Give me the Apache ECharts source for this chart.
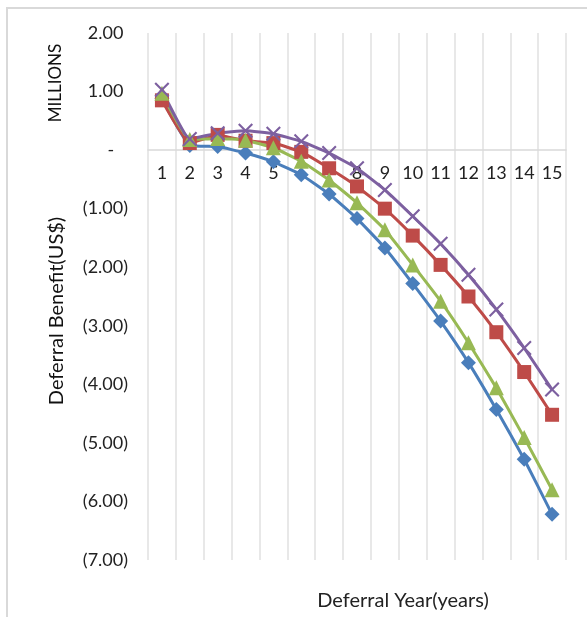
<!DOCTYPE html>
<html>
<head>
<meta charset="utf-8">
<script src="https://cdn.jsdelivr.net/npm/echarts@6/dist/echarts.min.js"></script>
<style>
  html, body { margin: 0; padding: 0; background: #fff; }
  #chart { width: 587px; height: 617px; }
</style>
</head>
<body>
<div id="chart"></div>
<script>
// Deferral years on the category axis
const years = ['1','2','3','4','5','6','7','8','9','10','11','12','13','14','15'];

// Deferral benefit per scenario, in millions of US$
const seriesDiamond  = [0.88, 0.08, 0.06, -0.05, -0.20, -0.42, -0.75, -1.17, -1.67, -2.28, -2.92, -3.63, -4.43, -5.28, -6.22];
const seriesSquare   = [0.85, 0.12, 0.26, 0.16, 0.12, -0.03, -0.31, -0.62, -1.00, -1.46, -1.96, -2.50, -3.11, -3.79, -4.52];
const seriesTriangle = [0.97, 0.18, 0.20, 0.17, 0.04, -0.19, -0.51, -0.90, -1.36, -1.96, -2.58, -3.29, -4.06, -4.91, -5.80];
const seriesCross    = [1.03, 0.19, 0.29, 0.33, 0.28, 0.15, -0.05, -0.31, -0.68, -1.13, -1.60, -2.13, -2.72, -3.38, -4.09];

// Value axis range (millions)
const yMin = -7, yMax = 2, yStep = 1;

const FONT = 'Lato';
const TEXT = '#222222';

// Plot box in pixels
const GRID = { left: 148, right: 21, top: 33, bottom: 57 };
const CHART_H = 617;

// Filled "x" marker outline
const crossPath = 'path://M1,0L5,4L9,0L10,1L6,5L10,9L9,10L5,6L1,10L0,9L4,5L0,1Z';

function accounting(v) {
  if (Math.abs(v) < 1e-9) return '-   ';
  if (v < 0) return '(' + Math.abs(v).toFixed(2) + ')';
  return v.toFixed(2) + ' ';
}

function lineSeries(name, data, color, symbol, size) {
  return {
    name: name,
    type: 'line',
    data: data,
    smooth: 0.12,
    symbol: symbol,
    symbolSize: size,
    showAllSymbol: true,
    lineStyle: { color: color, width: 3 },
    itemStyle: { color: color },
    z: 3
  };
}

// Category axis sits on the zero line: shift it up from the bottom edge
const plotH = CHART_H - GRID.top - GRID.bottom;
const zeroOffset = -plotH * (0 - yMin) / (yMax - yMin);

const chart = echarts.init(document.getElementById('chart'), null, { renderer: 'canvas' });

chart.setOption({
  animation: false,
  backgroundColor: '#ffffff',
  textStyle: { fontFamily: FONT },
  grid: Object.assign({ containLabel: false }, GRID),
  xAxis: {
    type: 'category',
    data: years,
    boundaryGap: true,
    position: 'bottom',
    offset: zeroOffset,
    axisLine: { onZero: false, lineStyle: { color: '#d9d9d9', width: 1.5 } },
    axisTick: { show: false },
    axisLabel: { interval: 0, margin: 14, color: TEXT, fontFamily: FONT, fontSize: 18 },
    splitLine: { show: true, interval: 0, lineStyle: { color: '#e0e0e0', width: 1.5 } }
  },
  yAxis: {
    type: 'value',
    min: yMin,
    max: yMax,
    interval: yStep,
    axisLine: { show: false },
    axisTick: { show: false },
    splitLine: { show: false },
    axisLabel: {
      margin: 20,
      color: TEXT,
      fontFamily: FONT,
      fontSize: 18,
      formatter: accounting
    }
  },
  graphic: [
    {
      type: 'rect',
      shape: { x: 7, y: 8, width: 620, height: 700 },
      style: { fill: 'none', stroke: '#d9d9d9', lineWidth: 2 },
      silent: true
    },
    {
      type: 'text',
      x: 56, y: 83,
      rotation: Math.PI / 2,
      style: {
        text: 'MILLIONS',
        fill: '#111',
        font: '17px ' + FONT,
        align: 'center',
        verticalAlign: 'middle'
      }
    },
    {
      type: 'text',
      x: 57, y: 311,
      rotation: Math.PI / 2,
      style: {
        text: 'Deferral Benefit(US$)',
        fill: '#111',
        font: '20px ' + FONT,
        align: 'center',
        verticalAlign: 'middle'
      }
    },
    {
      type: 'text',
      x: 403, y: 601,
      style: {
        text: 'Deferral Year(years)',
        fill: TEXT,
        font: '20px ' + FONT,
        align: 'center',
        verticalAlign: 'middle'
      }
    }
  ],
  series: [
    lineSeries('Diamond', seriesDiamond, '#4a7ebb', 'diamond', 15),
    lineSeries('Square', seriesSquare, '#be4b48', 'rect', 14),
    lineSeries('Triangle', seriesTriangle, '#98b954', 'triangle', 15),
    lineSeries('Cross', seriesCross, '#7d60a0', crossPath, 15)
  ]
});
</script>
</body>
</html>
